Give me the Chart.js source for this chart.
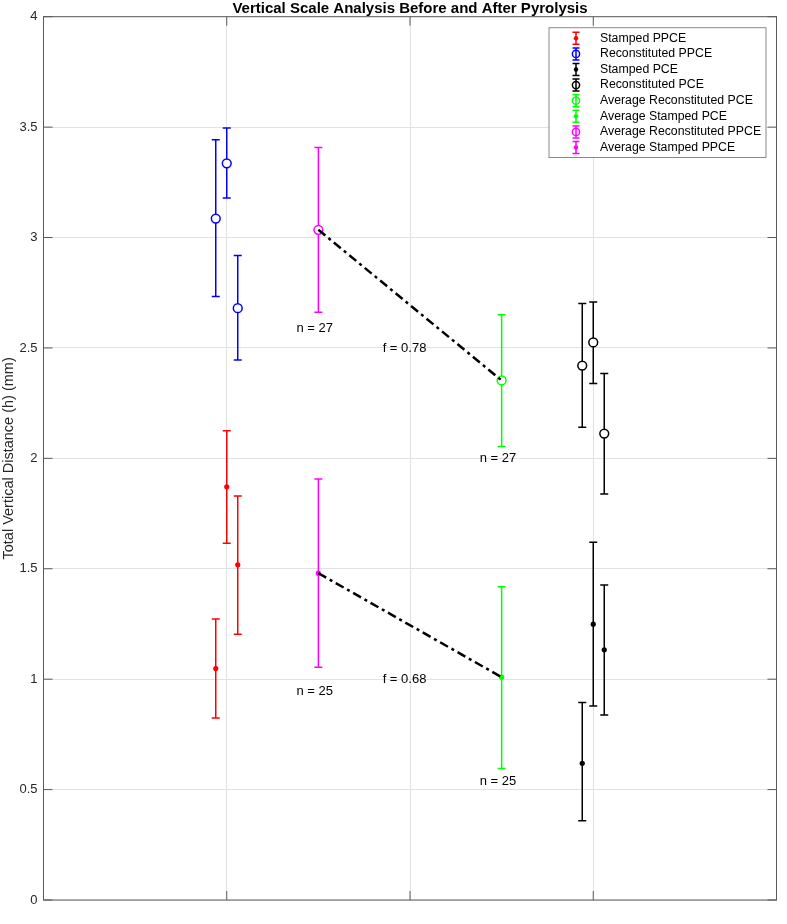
<!DOCTYPE html>
<html>
<head>
<meta charset="utf-8">
<title>Vertical Scale Analysis Before and After Pyrolysis</title>
<script src="https://cdn.jsdelivr.net/npm/chart.js@4.4.0/dist/chart.umd.min.js"></script>
<style>
  html, body { margin: 0; padding: 0; background: #fff; }
  canvas { display: block; }
</style>
</head>
<body>
<canvas id="scaleChart" width="787" height="924"></canvas>
<script>
// series, in legend order
const seriesNames = ['Stamped PPCE', 'Reconstituted PPCE', 'Stamped PCE', 'Reconstituted PCE',
                     'Average Reconstituted PCE', 'Average Stamped PCE', 'Average Reconstituted PPCE', 'Average Stamped PPCE'];
const seriesColors = ['#ff0000', '#0000ff', '#000000', '#000000', '#00ff00', '#00ff00', '#ff00ff', '#ff00ff'];
const seriesMarkers = ['dot', 'circle', 'dot', 'circle', 'circle', 'dot', 'circle', 'dot'];

// x position, mean, lower and upper end of each error bar
const seriesX = [
    [0.94, 1.00, 1.06], [0.94, 1.00, 1.06], [2.94, 3.00, 3.06], [2.94, 3.00, 3.06],
    [2.5], [2.5], [1.5], [1.5]
];
const seriesMean = [
    [1.048, 1.871, 1.518], [3.086, 3.336, 2.680], [0.619, 1.249, 1.133], [2.420, 2.525, 2.112],
    [2.353], [1.009], [3.035], [1.480]
];
const seriesLow = [
    [0.824, 1.616, 1.204], [2.733, 3.179, 2.445], [0.359, 0.879, 0.838], [2.141, 2.339, 1.839],
    [2.054], [0.595], [2.662], [1.054]
];
const seriesHigh = [
    [1.272, 2.125, 1.830], [3.443, 3.496, 2.919], [0.894, 1.620, 1.426], [2.701, 2.708, 2.384],
    [2.650], [1.418], [3.408], [1.907]
];

// dash-dot lines joining the averages (index into the series above)
const trendFrom = [6, 7];
const trendTo = [4, 5];

// text notes
const noteText = ['n = 27', 'f = 0.78', 'n = 27', 'n = 25', 'f = 0.68', 'n = 25'];
const noteX = [1.48, 1.97, 2.48, 1.48, 1.97, 2.48];
const noteY = [2.59, 2.50, 2.00, 0.944, 0.997, 0.539];

const yTickStep = 0.5;
const xTickStep = 1;

const FONT = '"Liberation Sans", Arial, Helvetica, sans-serif';
const AXIS_COLOR = '#262626';

const datasets = [];

seriesNames.forEach(function (name, s) {
    // error bars: vertical segment with cap points, broken by null
    const barData = [];
    seriesX[s].forEach(function (x, i) {
        barData.push({ x: x, y: seriesLow[s][i] });
        barData.push({ x: x, y: seriesHigh[s][i] });
        barData.push({ x: x, y: null });
    });
    datasets.push({
        label: name + ' bars',
        data: barData,
        showLine: true,
        spanGaps: false,
        borderColor: seriesColors[s],
        borderWidth: 1.5,
        pointStyle: 'line',
        pointRadius: 4,
        pointBorderWidth: 1.5,
        pointBorderColor: seriesColors[s],
        order: 3
    });

    const isCircle = seriesMarkers[s] === 'circle';
    datasets.push({
        label: name,
        data: seriesX[s].map((x, i) => ({ x: x, y: seriesMean[s][i] })),
        showLine: false,
        pointStyle: 'circle',
        pointRadius: isCircle ? 4.4 : 2.6,
        pointBorderWidth: isCircle ? 1.5 : 0,
        pointBorderColor: seriesColors[s],
        pointBackgroundColor: isCircle ? '#ffffff' : seriesColors[s],
        order: 2
    });
});

trendFrom.forEach(function (a, k) {
    const b = trendTo[k];
    datasets.push({
        label: 'trend ' + k,
        data: [{ x: seriesX[a][0], y: seriesMean[a][0] }, { x: seriesX[b][0], y: seriesMean[b][0] }],
        showLine: true,
        borderColor: '#000000',
        borderWidth: 2.5,
        borderDash: [9, 4, 3, 4],
        pointRadius: 0,
        order: 1
    });
});

const framePlugin = {
    id: 'frame',
    afterDatasetsDraw(chart) {
        const ctx = chart.ctx;
        const xs = chart.scales.x, ys = chart.scales.y;
        ctx.save();
        ctx.fillStyle = '#000000';
        ctx.font = '13px ' + FONT;
        ctx.textAlign = 'center';
        ctx.textBaseline = 'middle';
        noteText.forEach(function (t, i) {
            ctx.fillText(t, xs.getPixelForValue(noteX[i]), ys.getPixelForValue(noteY[i]));
        });
        ctx.restore();
    },
    afterDraw(chart) {
        const ctx = chart.ctx;
        const a = chart.chartArea;
        const xs = chart.scales.x, ys = chart.scales.y;
        ctx.save();

        // axes box and inward tick marks
        ctx.strokeStyle = '#5a5a5a';
        ctx.lineWidth = 1;
        ctx.strokeRect(a.left, a.top, a.right - a.left, a.bottom - a.top);
        ctx.beginPath();
        ys.ticks.forEach(function (t) {
            const py = ys.getPixelForValue(t.value);
            ctx.moveTo(a.left, py); ctx.lineTo(a.left + 9, py);
            ctx.moveTo(a.right, py); ctx.lineTo(a.right - 9, py);
        });
        xs.ticks.forEach(function (t) {
            const px = xs.getPixelForValue(t.value);
            ctx.moveTo(px, a.bottom); ctx.lineTo(px, a.bottom - 9);
            ctx.moveTo(px, a.top); ctx.lineTo(px, a.top + 9);
        });
        ctx.stroke();

        // title
        ctx.fillStyle = '#000000';
        ctx.font = 'bold 15px ' + FONT;
        ctx.textAlign = 'center';
        ctx.textBaseline = 'alphabetic';
        ctx.fillText('Vertical Scale Analysis Before and After Pyrolysis', (a.left + a.right) / 2, 13);

        // legend inside the axes, top right
        const boxW = 217, rowH = 15.6;
        const boxH = rowH * seriesNames.length + 5;
        const bx = a.right - 10.5 - boxW, by = a.top + 11;
        ctx.fillStyle = '#ffffff';
        ctx.fillRect(bx, by, boxW, boxH);
        ctx.strokeStyle = '#8a8a8a';
        ctx.strokeRect(bx, by, boxW, boxH);
        ctx.font = '12.3px ' + FONT;
        ctx.textAlign = 'left';
        ctx.textBaseline = 'middle';
        seriesNames.forEach(function (name, s) {
            const cy = by + 10.6 + s * rowH;
            const cx = bx + 27;
            ctx.strokeStyle = seriesColors[s];
            ctx.fillStyle = seriesColors[s];
            ctx.lineWidth = 1.5;
            ctx.beginPath();
            ctx.moveTo(cx, cy - 6); ctx.lineTo(cx, cy + 6);
            ctx.moveTo(cx - 3.5, cy - 6); ctx.lineTo(cx + 3.5, cy - 6);
            ctx.moveTo(cx - 3.5, cy + 6); ctx.lineTo(cx + 3.5, cy + 6);
            ctx.stroke();
            ctx.beginPath();
            if (seriesMarkers[s] === 'circle') {
                ctx.arc(cx, cy, 3.6, 0, Math.PI * 2);
                ctx.stroke();
            } else {
                ctx.arc(cx, cy, 2.2, 0, Math.PI * 2);
                ctx.fill();
            }
            ctx.fillStyle = '#000000';
            ctx.fillText(name, bx + 51, cy);
        });
        ctx.restore();
    }
};

new Chart(document.getElementById('scaleChart').getContext('2d'), {
    type: 'scatter',
    data: { datasets: datasets },
    options: {
        responsive: false,
        animation: false,
        layout: { padding: { left: 0, right: 10.5, top: 16.7, bottom: 24 } },
        plugins: { legend: { display: false }, tooltip: { enabled: false }, title: { display: false } },
        scales: {
            x: {
                type: 'linear', min: 0, max: 4,
                ticks: { stepSize: xTickStep, display: false },
                grid: { color: '#e2e2e2', drawTicks: false, tickLength: 0 },
                border: { display: false },
                afterFit: function (scale) { scale.height = 0; }
            },
            y: {
                type: 'linear', min: 0, max: 4,
                ticks: {
                    stepSize: yTickStep, padding: 6, color: AXIS_COLOR, font: { size: 13, family: FONT },
                    callback: function (v) { return String(Number(v.toFixed(2))); }
                },
                grid: { color: '#e2e2e2', drawTicks: false, tickLength: 0 },
                border: { display: false },
                title: {
                    display: true, text: 'Total Vertical Distance (h) (mm)', color: AXIS_COLOR,
                    font: { size: 14.5, family: FONT }, padding: 0
                },
                afterFit: function (scale) { scale.width = 43.5; }
            }
        }
    },
    plugins: [framePlugin]
});
</script>
</body>
</html>
